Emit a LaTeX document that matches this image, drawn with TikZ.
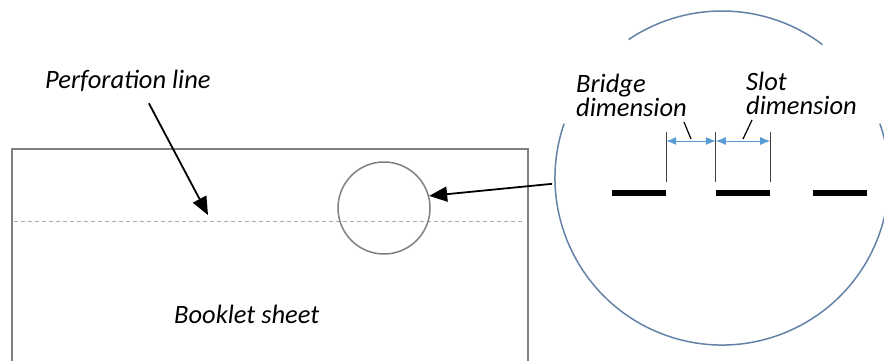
\documentclass[tikz,border=0pt]{standalone}
\usepackage{fontspec}
\setmainfont{Carlito}
\usetikzlibrary{arrows.meta,calc}
\definecolor{sheetgray}{RGB}{128,128,128}
\definecolor{perfgray}{RGB}{160,170,180}
\definecolor{magblue}{RGB}{100,130,168}
\definecolor{dimblue}{RGB}{91,155,213}
\begin{document}
\begin{tikzpicture}[x=1pt,y=1pt]
    \tikzset{% style settings for labels, arrows and slots
    lbl/.style={inner sep=0pt,font=\fontsize{26.5}{24}\selectfont\itshape,align=left},
    arr/.style={-{Triangle[length=18pt,width=15pt]},line width=1.8pt},
    slot/.style={fill=black,minimum width=54pt,minimum height=6pt,inner sep=0pt},
    dim/.style={{Latex[length=10pt,width=8pt]}-{Latex[length=10pt,width=8pt]},dimblue,line width=1pt},
    ext/.style={line width=1pt,black!75},
    lead/.style={line width=1.2pt},
    }
    \clip (0,0) rectangle (884,360);
    % Sheet
    \draw[sheetgray,line width=1.2pt] (12,-2) -- (12,211) -- (528,211) -- (528,-2);
    \draw[perfgray,line width=1pt,dash pattern=on 4pt off 3pt] (14,139) -- (524,139);

    % Nodes
    \node[lbl,anchor=base west] (perf) at (45,272) {Perforation line};
    \node[lbl,anchor=base west] (sheet) at (174,37) {Booklet sheet};
    \node[circle,draw=sheetgray,line width=1.5pt,minimum size=92pt,inner sep=0pt] (spot) at (384,152) {};
    \node[circle,minimum size=334pt,inner sep=0pt,outer sep=0pt] (mag) at (722,182) {};
    \coordinate (perfpt) at (208,145);
    \node[lbl,anchor=north west] (bridge) at (576,286) {Bridge\\dimension};
    \node[lbl,anchor=north west] (slotlbl) at (746,288) {Slot\\dimension};

    % Magnifier
    \draw[magblue,line width=1.5pt] (mag.53) arc[start angle=53,end angle=124,radius=167pt];
    \draw[magblue,line width=1.5pt] (mag.161) arc[start angle=161,end angle=379,radius=167pt];
    \foreach \x/\n in {639/sa,743/sb,840/sc}
        \node[slot] (\n) at (\x,167) {};

    % Dimensions
    \draw[ext] ([yshift=8pt]sa.north east) -- (sa.north east |- 0,228);
    \draw[ext] ([yshift=8pt]sb.north west) -- (sb.north west |- 0,228);
    \draw[ext] ([yshift=8pt]sb.north east) -- (sb.north east |- 0,228);
    \draw[dim] (sa.north east |- 0,219) coordinate (d1) -- (sb.north west |- 0,219) coordinate (d2);
    \draw[dim] (d2) -- (sb.north east |- 0,219) coordinate (d3);

    %Edges
    \draw[lead] ([shift={(-3,-5)}]bridge.south east) -- ($(d1)!.5!(d2)+(0,2)$);
    \draw[lead] ([shift={(6,-5)}]slotlbl.south west) -- ($(d2)!.5!(d3)+(0,2)$);
    \draw[arr] ([shift={(21,-12)}]perf.south) -- (perfpt);
    \draw[arr] ([xshift=-3pt]mag.182) -- (spot.15);
\end{tikzpicture}
\end{document}
